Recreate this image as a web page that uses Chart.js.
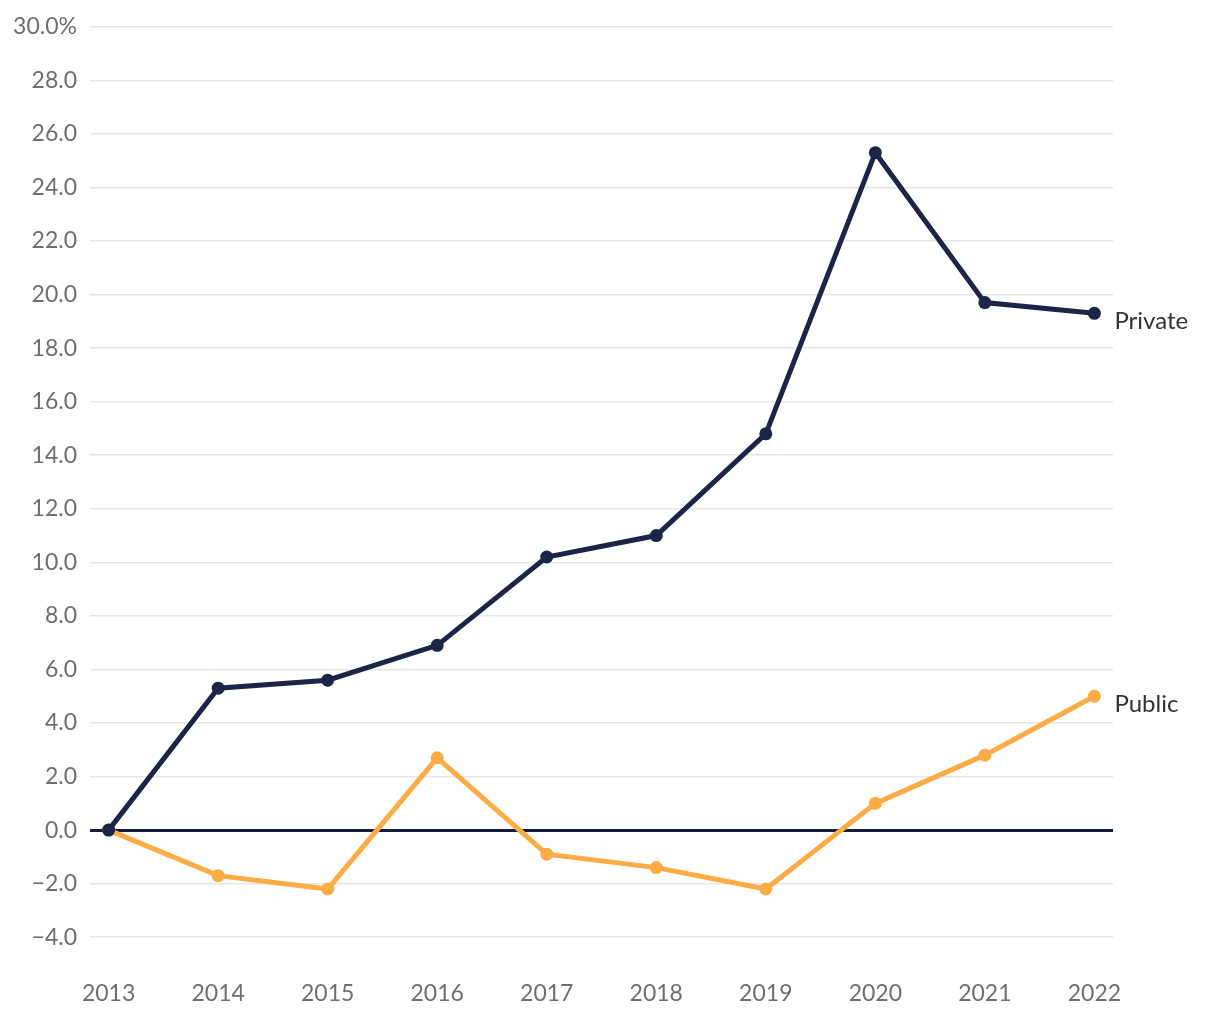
<!DOCTYPE html>
<html>
<head>
<meta charset="utf-8">
<script src="https://cdn.jsdelivr.net/npm/chart.js@4"></script>
<style>
html,body{margin:0;padding:0;background:#fff;}
#wrap{width:1220px;height:1020px;position:relative;}
</style>
</head>
<body>
<div id="wrap"><canvas id="c" width="1220" height="1020"></canvas></div>
<script>
const years = [2013, 2014, 2015, 2016, 2017, 2018, 2019, 2020, 2021, 2022];
const privateValues = [0, 5.3, 5.6, 6.9, 10.2, 11.0, 14.8, 25.3, 19.7, 19.3];
const publicValues = [0, -1.7, -2.2, 2.7, -0.9, -1.4, -2.2, 1.0, 2.8, 5.0];
const seriesNames = ['Private', 'Public'];
const yTickValues = [-4, -2, 0, 2, 4, 6, 8, 10, 12, 14, 16, 18, 20, 22, 24, 26, 28, 30];

const navy = '#1b2547';
const orange = '#fdab45';
const FONT = 'Lato, "Open Sans", sans-serif';

const endLabels = {
  id: 'endLabels',
  afterDatasetsDraw(chart) {
    const ctx = chart.ctx;
    ctx.save();
    ctx.font = '24px ' + FONT;
    ctx.fillStyle = '#333333';
    ctx.textAlign = 'left';
    ctx.textBaseline = 'middle';
    chart.data.datasets.forEach((ds, i) => {
      const meta = chart.getDatasetMeta(i);
      const pt = meta.data[meta.data.length - 1];
      ctx.fillText(ds.label, pt.x + 20, pt.y + 8);
    });
    ctx.restore();
  }
};

new Chart(document.getElementById('c'), {
  type: 'line',
  data: {
    datasets: [
      {
        label: seriesNames[0],
        data: years.map((y, i) => ({x: y, y: privateValues[i]})),
        borderColor: navy,
        backgroundColor: navy,
        borderWidth: 5,
        pointRadius: 6.5,
        pointHoverRadius: 6.5,
        pointBorderWidth: 0,
        tension: 0
      },
      {
        label: seriesNames[1],
        data: years.map((y, i) => ({x: y, y: publicValues[i]})),
        borderColor: orange,
        backgroundColor: orange,
        borderWidth: 5,
        pointRadius: 6.5,
        pointHoverRadius: 6.5,
        pointBorderWidth: 0,
        tension: 0
      }
    ]
  },
  options: {
    responsive: false,
    animation: false,
    layout: {padding: {top: 11, right: 107, bottom: 0, left: 0}},
    plugins: {legend: {display: false}, tooltip: {enabled: false}},
    scales: {
      x: {
        type: 'linear',
        min: years[0] - 0.17,
        max: years[years.length - 1] + 0.17,
        afterBuildTicks: (scale) => { scale.ticks = years.map(v => ({value: v})); },
        afterFit: (scale) => { scale.height = 56; },
        grid: {display: false, drawTicks: false},
        border: {display: false},
        ticks: {
          color: '#6e6e6e',
          font: {family: FONT, size: 23},
          padding: 16,
          maxRotation: 0,
          autoSkip: false,
          callback: (v) => String(v)
        }
      },
      y: {
        min: -5,
        max: 30,
        afterBuildTicks: (scale) => { scale.ticks = yTickValues.map(v => ({value: v})); },
        afterFit: (scale) => { scale.width = 90; },
        grid: {
          drawTicks: false,
          color: (c) => (c.tick && c.tick.value === 0) ? '#131a3a' : '#e6e6e6',
          lineWidth: (c) => (c.tick && c.tick.value === 0) ? 3 : 1.5
        },
        border: {display: false},
        ticks: {
          color: '#6e6e6e',
          font: {family: FONT, size: 23},
          padding: 13,
          callback: (v) => {
            let s = Math.abs(v).toFixed(1);
            if (v < 0) s = '\u2212' + s;
            if (v === 30) s += '%';
            return s;
          }
        }
      }
    }
  },
  plugins: [endLabels]
});
</script>
</body>
</html>
